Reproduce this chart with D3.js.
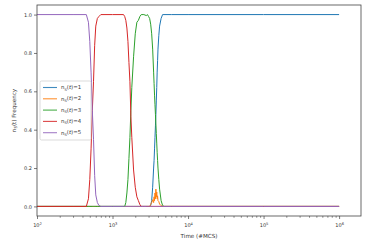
<!DOCTYPE html>
<html>
<head>
<meta charset="utf-8">
<script src="https://cdn.jsdelivr.net/npm/d3@7"></script>
<style>
  body { margin: 0; background: #fff; }
  text { font-family: "DejaVu Sans", sans-serif; fill: #333; }
</style>
</head>
<body>
<div id="chart"></div>
<script>
// time steps (MCS) shared by every series
var timeSteps = [100, 300, 450, 480, 500, 520, 540, 560, 580, 600, 630, 660, 700, 1000,
  1400, 1450, 1500, 1550, 1600, 1650, 1700, 1750, 1800, 1900, 2000, 2100, 2200, 2300, 2400, 2600, 2800,
  2900, 3000, 3100, 3200, 3300, 3400, 3500, 3550, 3600, 3650, 3700, 3750, 3800, 3850, 3900, 3950,
  4000, 4100, 4200, 4400, 4600, 4800, 6000, 10000, 100000, 1000000];

// frequency of each n_S(t) value
var freq1 = [0, 0, 0, 0, 0, 0, 0, 0, 0, 0, 0, 0, 0, 0,
  0, 0, 0, 0, 0, 0, 0, 0, 0, 0, 0, 0, 0, 0, 0, 0, 0,
  0, 0, 0, 0.005, 0.03, 0.10, 0.20, 0.24, 0.30, 0.36, 0.42, 0.48, 0.55, 0.62, 0.70, 0.76,
  0.82, 0.89, 0.94, 0.98, 1.0, 1.0, 1.0, 1.0, 1.0, 1.0];
var freq2 = [0, 0, 0, 0, 0, 0, 0, 0, 0, 0, 0, 0, 0, 0,
  0, 0, 0, 0, 0, 0, 0, 0, 0, 0, 0, 0, 0, 0, 0, 0, 0,
  0, 0, 0, 0.01, 0.02, 0.035, 0.02, 0.05, 0.03, 0.07, 0.04, 0.09, 0.05, 0.075, 0.04, 0.055,
  0.03, 0.025, 0.012, 0.004, 0, 0, 0, 0, 0, 0];
var freq3 = [0, 0, 0, 0, 0, 0, 0, 0, 0, 0, 0, 0, 0, 0,
  0, 0, 0.02, 0.07, 0.14, 0.25, 0.36, 0.50, 0.62, 0.78, 0.90, 0.96, 0.97, 0.99, 1.0, 1.0, 0.995,
  1.0, 0.99, 0.98, 0.95, 0.90, 0.82, 0.70, 0.64, 0.58, 0.53, 0.48, 0.43, 0.38, 0.33, 0.28, 0.24,
  0.20, 0.14, 0.09, 0.03, 0.005, 0, 0, 0, 0, 0];
var freq4 = [0, 0, 0, 0.04, 0.14, 0.30, 0.50, 0.65, 0.84, 0.94, 0.98, 0.99, 1.0, 1.0,
  1.0, 0.99, 0.97, 0.93, 0.86, 0.75, 0.65, 0.47, 0.36, 0.19, 0.10, 0.05, 0.03, 0.01, 0, 0, 0,
  0, 0, 0, 0, 0, 0, 0, 0, 0, 0, 0, 0, 0, 0, 0, 0,
  0, 0, 0, 0, 0, 0, 0, 0, 0, 0];
var freq5 = [1.0, 1.0, 1.0, 0.96, 0.86, 0.70, 0.50, 0.35, 0.16, 0.06, 0.02, 0.005, 0, 0,
  0, 0, 0, 0, 0, 0, 0, 0, 0, 0, 0, 0, 0, 0, 0, 0, 0,
  0, 0, 0, 0, 0, 0, 0, 0, 0, 0, 0, 0, 0, 0, 0, 0,
  0, 0, 0, 0, 0, 0, 0, 0, 0, 0];

var seriesLabels = ["1", "2", "3", "4", "5"];
var seriesValues = [freq1, freq2, freq3, freq4, freq5];
var colors = ["#1f77b4", "#ff7f0e", "#2ca02c", "#d62728", "#9467bd"];
var yTicks = [0, 0.2, 0.4, 0.6, 0.8, 1.0];
var xTicks = [1e2, 1e3, 1e4, 1e5, 1e6];

// set the dimensions and margins of the graph
var W = 368, H = 243;
var margin = {top: 5, right: 7, bottom: 27, left: 37},
    width = W - margin.left - margin.right,
    height = H - margin.top - margin.bottom;

var svg = d3.select("#chart").append("svg")
    .attr("width", W)
    .attr("height", H)
  .append("g")
    .attr("transform", "translate(" + margin.left + "," + margin.top + ")");

// set the ranges
var x = d3.scaleLog().domain([100, Math.pow(10, 6.29)]).range([0, width]);
var y = d3.scaleLinear().domain([-0.05, 1.05]).range([height, 0]);

// the lines
var line = d3.line()
    .x(function(d) { return x(d[0]); })
    .y(function(d) { return y(d[1]); });

seriesValues.forEach(function(vals, i) {
  var data = timeSteps.map(function(t, j) { return [t, vals[j]]; });
  svg.append("path")
      .datum(data)
      .attr("fill", "none")
      .attr("stroke", colors[i])
      .attr("stroke-width", 1)
      .attr("d", line);
});

// minor ticks on the log axis
var minor = [];
for (var e = 2; e < 7; e++) {
  for (var m = 2; m < 10; m++) {
    var v = m * Math.pow(10, e);
    if (v <= x.domain()[1]) minor.push(v);
  }
}

// x axis
var xAxis = svg.append("g")
    .attr("transform", "translate(0," + height + ")")
    .call(d3.axisBottom(x).tickValues(xTicks).tickSize(3).tickPadding(2)
      .tickFormat(function() { return ""; }));
svg.append("g")
    .attr("transform", "translate(0," + height + ")")
    .call(d3.axisBottom(x).tickValues(minor).tickSize(1.8).tickFormat(""))
    .call(function(g) { g.select(".domain").remove(); })
    .selectAll("line").attr("stroke", "#444").attr("stroke-width", 0.6);

// superscript tick labels
xAxis.selectAll(".tick text").each(function(d) {
  var t = d3.select(this).text("");
  t.attr("font-size", 5).attr("fill", "#333").attr("y", 8).attr("dy", "0.6em");
  t.append("tspan").text("10");
  t.append("tspan").attr("dy", "-0.45em").attr("font-size", 3.6)
    .text(Math.round(Math.log10(d)));
});

// y axis
var yAxis = svg.append("g")
    .call(d3.axisLeft(y).tickValues(yTicks).tickSize(3).tickPadding(2)
      .tickFormat(d3.format(".1f")));
yAxis.selectAll("text").attr("font-size", 5).attr("fill", "#333");

// frame
[xAxis, yAxis].forEach(function(g) {
  g.select(".domain").remove();
  g.selectAll("line").attr("stroke", "#444").attr("stroke-width", 0.7);
});
svg.append("rect")
    .attr("width", width)
    .attr("height", height)
    .attr("fill", "none")
    .attr("stroke", "#444")
    .attr("stroke-width", 0.8);

// axis labels
svg.append("text")
    .attr("x", width / 2)
    .attr("y", height + 22)
    .attr("text-anchor", "middle")
    .attr("font-size", 5.6)
    .text("Time (#MCS)");

var yl = svg.append("text")
    .attr("transform", "translate(" + (-21) + "," + (height / 2) + ") rotate(-90)")
    .attr("text-anchor", "middle")
    .attr("font-size", 5.6);
yl.append("tspan").text("n");
yl.append("tspan").attr("font-size", 4).attr("dy", "0.3em").text("S");
yl.append("tspan").attr("dy", "-0.25em").text("(t) Frequency");

// legend
var leg = svg.append("g").attr("transform", "translate(3,76)");
leg.append("rect")
    .attr("width", 51)
    .attr("height", 59)
    .attr("rx", 1.5)
    .attr("fill", "#fff")
    .attr("fill-opacity", 0.8)
    .attr("stroke", "#ccc")
    .attr("stroke-width", 0.7);
seriesLabels.forEach(function(lab, i) {
  var g = leg.append("g").attr("transform", "translate(0," + (6.5 + i * 11.3) + ")");
  g.append("line")
      .attr("x1", 3).attr("x2", 17)
      .attr("y1", 0).attr("y2", 0)
      .attr("stroke", colors[i])
      .attr("stroke-opacity", 0.85)
      .attr("stroke-width", 1.1);
  var t = g.append("text").attr("x", 21).attr("dy", "0.35em").attr("font-size", 5.4);
  t.append("tspan").text("n");
  t.append("tspan").attr("font-size", 3.8).attr("dy", "0.3em").text("S");
  t.append("tspan").attr("dy", "-0.3em").text("(");
  t.append("tspan").attr("font-style", "italic").text("t");
  t.append("tspan").text(")=" + lab);
});
</script>
</body>
</html>
